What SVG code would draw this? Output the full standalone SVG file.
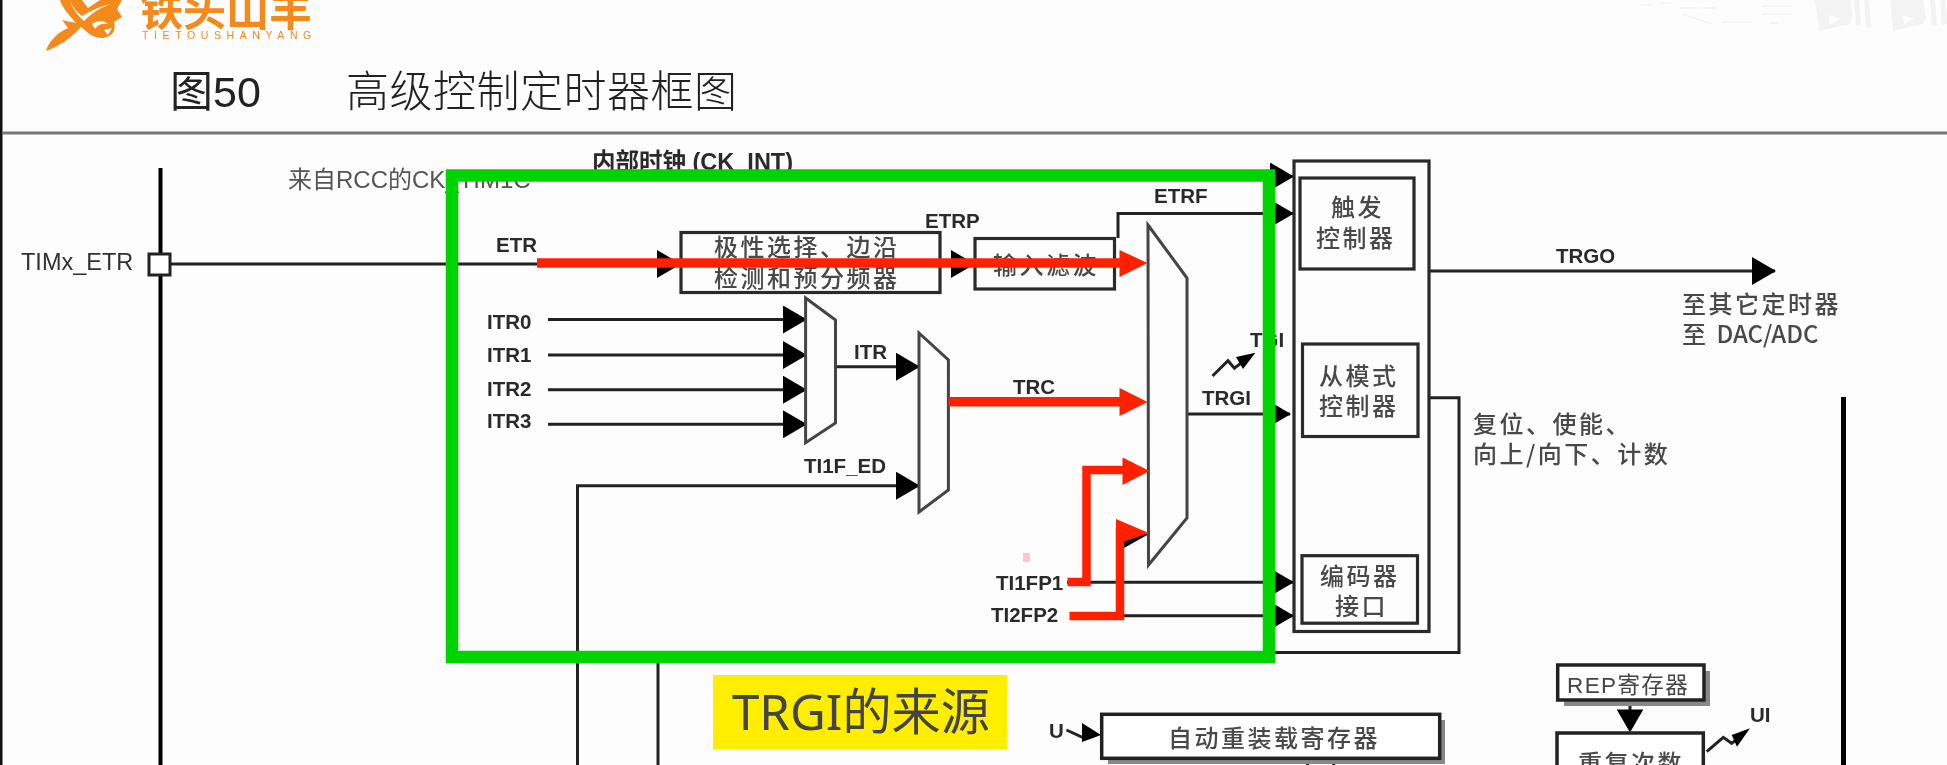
<svg xmlns="http://www.w3.org/2000/svg" width="1947" height="765" viewBox="0 0 1947 765">
<style>
text{font-family:"Liberation Sans","Noto Sans CJK SC",sans-serif;fill:#333}
.b{font-weight:bold;font-size:20.5px;fill:#2a2a2a}
.cn{font-size:24px;font-weight:500;fill:#484848;font-family:"Noto Sans CJK SC","Liberation Sans",sans-serif;letter-spacing:2.5px}
.box{fill:none;stroke:#2b2b2b;stroke-width:3.2}
.boxw{fill:#fff;stroke:#222;stroke-width:3.5}
.mux{fill:#fdfdfd;stroke:#444;stroke-width:3}
.ln{fill:none;stroke:#222;stroke-width:3}
.arr{fill:none;stroke:#222;stroke-width:3;marker-end:url(#ah)}
.shadow{fill:#888}
.red{fill:none;stroke:#ff2000;stroke-width:9.5}
.redh{fill:#ff2000}
.wm{fill:#f3f3f3}
.wm2{fill:none;stroke:#f4f4f4;stroke-width:1.5}
</style>
<defs>
<marker id="ah" markerUnits="userSpaceOnUse" markerWidth="25" markerHeight="28" refX="23" refY="14" orient="auto"><polygon points="0,0 24,14 0,28" fill="#000"/></marker>
<filter id="soft" x="-2%" y="-2%" width="104%" height="104%"><feGaussianBlur stdDeviation="0.7"/></filter>
<filter id="soft2" x="-2%" y="-2%" width="104%" height="104%"><feGaussianBlur stdDeviation="0.4"/></filter>
</defs>
<rect width="1947" height="765" fill="#fdfdfd"/>
<rect x="0" y="0" width="2.5" height="765" fill="#111"/>
<g id="watermark">
<polygon class="wm" points="1815,0 1851,0 1852,17 1849,24 1819,31"/>
<polygon class="wm" points="1854,0 1859,0 1861,25 1856,26"/>
<polygon class="wm" points="1864,0 1869,0 1871,27 1866,28"/>
<polygon class="wm" points="1890,0 1923,0 1926,17 1923,24 1893,31"/>
<polygon class="wm" points="1930,0 1935,0 1937,25 1932,26"/>
<polygon class="wm" points="1940,0 1945,0 1947,24 1942,25"/>
<polygon points="1829,15 1840,19 1830,24" fill="#fff"/>
<polygon points="1903,15 1914,19 1904,24" fill="#fff"/>
<path class="wm2" d="M1640,5H1652M1660,3H1672M1680,8H1700M1702,8H1716M1682,14L1712,24M1722,22H1752M1762,6H1792M1762,14H1792M1770,23H1778"/>
</g>
<g id="logo" filter="url(#soft2)">
<path fill="#f58a1f" d="M46,51 C49,41 57,33 68,28 L62,20 L76,23 C69,15 62,7 60,0 L122,0 L117,9 L122,17 L114,22 C117,31 111,38 101,38 C91,37 86,31 81,27 C72,37 60,46 46,51Z"/>
<path fill="#fdfdfd" d="M70,0 C72,7 77,12 82,16 C91,11 100,6 112,4 C102,6 92,13 84,21 C77,15 72,8 70,0Z M92,24 C98,20 104,20 108,24 C103,23 98,24 95,29Z M104,30 L112,28 L108,35Z M82,0 L100,0 L88,8Z"/>
<text x="140" y="26" style="font-family:'Noto Sans CJK SC',sans-serif;font-weight:700;font-size:43px;fill:#f58a1f">铁头山羊</text>
<text x="142" y="39" style="font-size:10.5px;fill:#f58a1f;letter-spacing:5.6px">TIETOUSHANYANG</text>
</g>
<g id="title" filter="url(#soft2)">
<text x="170" y="107" style="font-size:43px;fill:#222">图50</text>
<text x="346" y="107" style="font-size:43px;letter-spacing:.5px;fill:#222;font-family:'Noto Sans CJK SC',sans-serif;font-weight:300">高级控制定时器框图</text>
</g>
<rect x="2" y="131.5" width="1945" height="3" fill="#777"/>
<g id="diagram" filter="url(#soft)">
<g id="connectors">
<path class="ln" style="stroke:#000;stroke-width:4" d="M160.5,168V765"/>
<path class="ln" style="stroke:#000;stroke-width:5" d="M1843.5,397V765"/>
<path class="arr" d="M171,264H680"/>
<path class="arr" d="M941,264H974"/>
<path class="arr" d="M1118,238V213.5H1293"/>
<path class="arr" d="M1260,176.5H1293"/>
<path class="arr" d="M548,319.5H806"/>
<path class="arr" d="M548,355H806"/>
<path class="arr" d="M548,389.7H806"/>
<path class="arr" d="M548,424.3H806"/>
<path class="arr" d="M835.5,366.7H919"/>
<path class="arr" d="M577.5,765V485.7H919"/>
<path class="arr" d="M1187,414H1290"/>
<path class="arr" d="M1067,582.3H1293"/>
<path class="arr" d="M1070,615.7H1293"/>
<polygon points="1124,548 1149,534 1124,534" fill="#000"/>
<path class="arr" d="M1428,271H1775"/>
<path class="ln" d="M1428.6,397.7H1459V652.5H658V765"/>
<path class="ln" d="M1307.6,758V765M1333.6,758V765"/>
<path class="ln" d="M1212.5,376L1228,360.7L1234.4,368.3L1245,360"/>
<polygon points="1255.4,352.7 1236,357 1243,369" fill="#000"/>
<path class="ln" d="M1066.5,730L1084,738L1090,733"/>
<polygon points="1082,723 1101,735 1082,742" fill="#000"/>
<path class="ln" d="M1630,700V712"/>
<polygon points="1616.7,709.5 1643.3,709.5 1630,732.5" fill="#000"/>
<path class="ln" d="M1706.7,751.7L1723.3,737.3L1731.7,743.3L1742,735"/>
<polygon points="1750,728.3 1731.7,735 1737,746.7" fill="#000"/>
</g>
<g id="etr-pin"><rect x="149" y="254" width="21" height="21" fill="#fff" stroke="#222" stroke-width="3"/><text x="21" y="270" style="font-size:23.5px">TIMx_ETR</text></g>
<g id="rcc-label"><text x="288" y="188" style="font-size:24px;fill:#555">来自RCC的CK_TIM1C</text></g>
<g id="ckint-label"><text x="592" y="170" class="b" style="font-size:23.5px">内部时钟 (CK_INT)</text></g>
<g id="polarity"><rect class="box" x="681" y="232.5" width="259" height="60"/><text class="cn" x="714" y="256">极性选择、边沿</text><text class="cn" x="714" y="287">检测和预分频器</text></g>
<g id="filter-box"><rect class="box" x="975" y="238.5" width="139.5" height="50.5"/><text class="cn" x="993" y="274">输入滤波</text></g>
<g id="mux1"><polygon class="mux" points="805.6,298 835.5,320 835.5,423 805.6,442.7"/></g>
<g id="mux2"><polygon class="mux" points="919,333 948.4,360 948.4,490 919,512"/></g>
<g id="mux3"><polygon class="mux" points="1148,225 1187,278 1187,518 1148.5,565"/></g>
<g id="slave-group"><rect class="box" x="1294" y="161" width="135" height="470.5"/></g>
<g id="trigger-ctrl"><rect class="box" x="1300" y="178" width="114" height="91"/><text class="cn" x="1331" y="216">触发</text><text class="cn" x="1316" y="247">控制器</text></g>
<g id="slave-ctrl"><rect class="box" x="1302.5" y="344" width="115.5" height="92.5"/><text class="cn" x="1319" y="385">从模式</text><text class="cn" x="1319" y="415">控制器</text></g>
<g id="encoder"><rect class="box" x="1302" y="555.7" width="115.5" height="67.5"/><text class="cn" x="1320" y="585">编码器</text><text class="cn" x="1335" y="615">接口</text></g>
<g id="arr-reg"><rect class="shadow" x="1108" y="720" width="337" height="44"/><rect class="boxw" x="1101.7" y="714.3" width="338" height="44"/><text class="cn" x="1168" y="746.5">自动重装载寄存器</text></g>
<g id="rep-reg"><rect class="shadow" x="1564" y="671" width="146" height="35"/><rect class="boxw" x="1557.7" y="665" width="146.3" height="35"/><text x="1567" y="692.5" style="font-size:22.5px;letter-spacing:1.4px;fill:#444">REP寄存器</text></g>
<g id="rep-count"><rect class="boxw" x="1557" y="733" width="146.3" height="40"/><text class="cn" x="1578" y="772">重复次数</text></g>
<g id="labels">
<text class="b" x="496" y="252">ETR</text>
<text class="b" x="925" y="227.5">ETRP</text>
<text class="b" x="1154" y="202.5">ETRF</text>
<text class="b" x="487" y="329">ITR0</text>
<text class="b" x="487" y="361.5">ITR1</text>
<text class="b" x="487" y="395.5">ITR2</text>
<text class="b" x="487" y="427.5">ITR3</text>
<text class="b" x="854" y="358.5">ITR</text>
<text class="b" x="804" y="472.5">TI1F_ED</text>
<text class="b" x="1013" y="394">TRC</text>
<text class="b" x="1250" y="346.5">TGI</text>
<text class="b" x="1202" y="405">TRGI</text>
<text class="b" x="996" y="590">TI1FP1</text>
<text class="b" x="991" y="621.5">TI2FP2</text>
<text class="b" x="1556" y="262.5">TRGO</text>
<text class="b" x="1049" y="738">U</text>
<text class="b" x="1750" y="722">UI</text>
<text class="cn" x="1682" y="313" style="letter-spacing:2.5px">至其它定时器</text>
<text class="cn" x="1682" y="343" style="letter-spacing:0;word-spacing:5px">至 DAC/ADC</text>
<text class="cn" x="1473" y="433">复位、使能、</text>
<text class="cn" x="1473" y="463">向上/向下、计数</text>
</g>
</g>
<rect x="1023" y="553" width="7" height="9" fill="#ffc8c8"/>
<g id="highlights">
<path class="red" d="M537,263H1122"/>
<polygon class="redh" points="1119.5,250 1147.5,263 1119.5,277"/>
<path class="red" d="M948.5,401.7H1122"/>
<polygon class="redh" points="1119.5,388 1147.5,402 1119.5,416"/>
<path class="red" style="stroke-width:8.5" d="M1067.5,582H1086.5V470H1125"/>
<polygon class="redh" points="1122.5,457.5 1149.5,471 1122.5,485"/>
<path class="red" style="stroke-width:8.5" d="M1069.5,616H1120V528"/>
<polygon class="redh" points="1116,519 1148.8,533 1123,542 1116,542"/>
<rect x="452" y="175.5" width="817" height="481.5" fill="none" stroke="#00d400" stroke-width="12.5"/>
</g>
<g id="callout">
<rect x="713" y="675" width="294" height="74.5" fill="#ffee00"/>
<text x="732" y="730" textLength="258" lengthAdjust="spacingAndGlyphs" style="font-family:'Noto Sans','Noto Sans CJK SC',sans-serif;font-size:50px;fill:#444">TRGI的来源</text>
</g>
</svg>
